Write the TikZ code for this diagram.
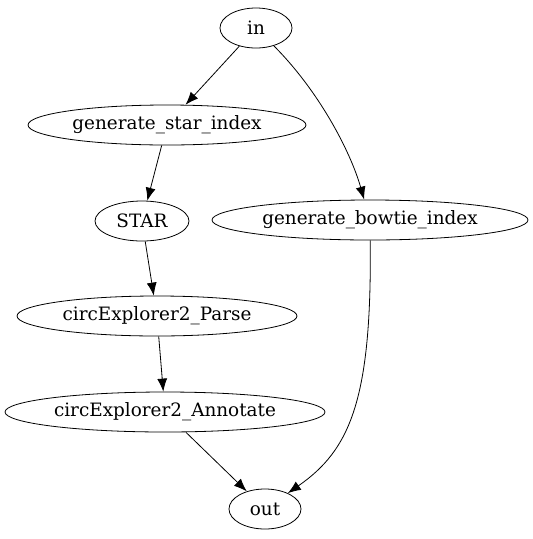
\documentclass[tikz,border=0pt]{standalone}
\usepackage{fontspec}
\setmainfont{DejaVu Serif}
\usetikzlibrary{shapes.geometric, arrows.meta}
\tikzset{
every picture/.style={line width=0.8pt, x=1pt, y=-1pt},
%%%%%%%%%%  Node styles
task/.style={ellipse, draw, inner sep=0pt, minimum height=40pt,
             font=\fontsize{18.4}{22}\selectfont},
%%%%%%%%%%  Edge styles
edge/.style={-{Latex[length=13pt,width=10pt]}}
}

\begin{document}
\begin{tikzpicture}
\useasboundingbox (0,0) rectangle (533,539);
%% nodes
\node[task, minimum width=72pt]  (in)  at (256,28)  {in};
\node[task, minimum width=278pt] (gsi) at (167,125) {generate\_star\_index};
\node[task, minimum width=94pt]  (star) at (142,221) {STAR};
\node[task, minimum width=316pt] (gbi) at (370,220) {generate\_bowtie\_index};
\node[task, minimum width=280pt] (cep) at (157,316) {circExplorer2\_Parse};
\node[task, minimum width=320pt] (cea) at (165,412) {circExplorer2\_Annotate};
\node[task, minimum width=72pt]  (out) at (265,509) {out};
%% straight edges
\draw[edge] (in) -- (gsi);
\draw[edge] (gsi) -- (star);
\draw[edge] (star) -- (cep);
\draw[edge] (cep) -- (cea);
\draw[edge] (cea) -- (out);
%% curved edges
\draw[edge] (in) .. controls (318,90) and (350,150) .. (gbi);
\draw[edge] (gbi) .. controls (372,400) and (350,450) .. (out);
\end{tikzpicture}
\end{document}
